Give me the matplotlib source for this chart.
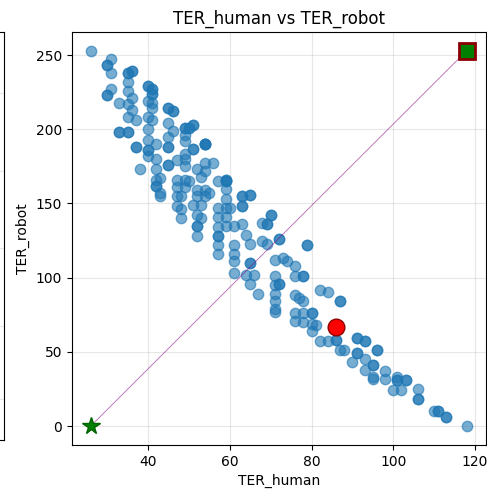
import matplotlib
matplotlib.use("Agg")
import matplotlib.pyplot as plt
import numpy as np

# (TER_human, TER_robot, stack count)
points = [
    (26, 253, 1),
    (31, 247, 1), (30, 243, 2), (31, 238, 1),
    (35, 238, 2), (36, 239, 2), (35, 232, 1),
    (40, 229, 2), (41, 227, 2), (31, 227, 1), (30, 223, 2), (35, 226, 1), (41, 224, 2),
    (36, 221, 1), (33, 218, 1), (40, 219, 1), (41, 218, 1), (35, 217, 1), (36, 213, 1),
    (41, 214, 1), (40, 208, 1), (35, 208, 1), (37, 206, 1), (41, 206, 1),
    (45, 214, 2), (46, 212, 2), (45, 204, 1), (46, 199, 1),
    (33, 198, 2), (35, 198, 2), (40, 200, 1), (40, 193, 1), (42, 190, 1), (45, 195, 1),
    (45, 188, 2), (37, 188, 2), (40, 186, 2),
    (49, 201, 2), (51, 203, 2), (50, 201, 2), (49, 196, 1), (49, 192, 1), (51, 187, 2), (49, 183, 1),
    (40, 182, 1), (42, 180, 1), (38, 173, 1), (42, 173, 1), (45, 176, 2), (47, 179, 1),
    (49, 180, 1), (49, 175, 1),
    (54, 190, 4),
    (52, 173, 1), (54, 177, 1), (54, 172, 1), (56, 177, 1), (53, 168, 1),
    (42, 166, 1), (43, 167, 1), (42, 162, 2), (43, 157, 1), (43, 155, 1),
    (47, 166, 1), (49, 166, 1), (50, 165, 1), (47, 161, 1), (49, 161, 1), (47, 155, 1),
    (48, 155, 1), (47, 148, 1), (48, 146, 1), (48, 140, 1),
    (52, 159, 1), (54, 159, 1), (55, 157, 1), (52, 155, 1), (54, 155, 1), (51, 149, 1),
    (53, 149, 1), (52, 142, 1), (53, 140, 1), (52, 135, 2), (52, 128, 1),
    (57, 165, 1), (59, 165, 2), (59, 166, 2), (59, 160, 1), (59, 153, 1), (57, 147, 1),
    (59, 147, 1), (60, 147, 1), (57, 141, 1), (59, 141, 1), (57, 134, 1), (59, 135, 1),
    (61, 135, 1), (57, 128, 2), (57, 122, 1), (57, 116, 1), (61, 122, 1), (61, 116, 1),
    (63, 136, 1), (64, 129, 1),
    (63, 155, 2), (65, 156, 2), (63, 148, 2),
    (70, 142, 2), (69, 136, 2), (68, 137, 1),
    (72, 126, 2), (79, 122, 2), (68, 125, 1), (69, 123, 1), (65, 123, 1),
    (61, 111, 1), (65, 110, 2), (61, 103, 1), (64, 102, 1), (66, 102, 1), (65, 96, 1), (67, 89, 1),
    (71, 112, 1), (73, 113, 1), (74, 111, 1), (76, 108, 1),
    (71, 101, 1), (71, 95, 1), (71, 89, 1), (71, 84, 1), (71, 79, 1),
    (76, 101, 1), (78, 101, 2),
    (76, 88, 1), (77, 86, 1), (78, 84, 1),
    (72, 96, 2),
    (82, 92, 1), (84, 90, 1),
    (87, 84, 2),
    (71, 77, 1),
    (76, 76, 1), (78, 76, 1), (80, 76, 2),
    (76, 71, 1), (78, 70, 1), (80, 69, 1), (81, 68, 1), (80, 64, 1),
    (82, 57, 1), (84, 57, 1), (86, 58, 2),
    (91, 59, 2), (93, 57, 2),
    (87, 51, 1), (88, 51, 1), (91, 49, 2), (90, 43, 1), (93, 45, 1), (93, 38, 1),
    (95, 41, 2), (95, 33, 1), (95, 32, 1), (98, 37, 1), (98, 32, 1),
    (96, 51, 2),
    (101, 33, 1), (101, 31, 2), (103, 31, 2),
    (100, 24, 1), (102, 24, 1),
    (106, 25, 1), (106, 18, 2),
    (110, 10, 1), (111, 10, 2), (113, 6, 2),
    (118, 0, 1),
]

ter_human = [p[0] for p in points for _ in range(p[2])]
ter_robot = [p[1] for p in points for _ in range(p[2])]

chosen = (86, 67)
ideal = (26, 0)
nadir = (118, 253)

fig = plt.figure(figsize=(4.87, 4.91), dpi=100)

# neighbouring subplot, mostly outside the canvas
ax0 = fig.add_axes([-0.5, 0.104, 0.5072, 0.831])
ax0.set_xticks([])
ax0.set_yticks([0.1, 0.28, 0.47, 0.66, 0.85])
ax0.tick_params(left=False, labelleft=False)
ax0.grid(True, alpha=0.3)

ax = fig.add_axes([0.1478, 0.0941, 0.8495, 0.8411])
ax.scatter(ter_human, ter_robot, s=56, color="#1f77b4", alpha=0.6, zorder=2)
ax.annotate("", xy=nadir, xytext=ideal,
            arrowprops=dict(arrowstyle="->", color="purple", alpha=0.6, lw=0.6),
            zorder=3)
ax.plot(*chosen, "o", color="red", markeredgecolor="darkred", markersize=12, zorder=5)
ax.plot(*ideal, "*", color="green", markeredgecolor="darkgreen", markersize=13, zorder=5)
ax.plot(*nadir, "s", color="green", markeredgecolor="darkred", markeredgewidth=2,
        markersize=11, zorder=5)

ax.set_xlim(21.4, 122.6)
ax.set_ylim(-12.65, 265.65)
ax.set_xticks([40, 60, 80, 100, 120])
ax.set_yticks([0, 50, 100, 150, 200, 250])
ax.grid(True, alpha=0.3)
ax.set_xlabel("TER_human")
ax.set_ylabel("TER_robot")
ax.set_title("TER_human vs TER_robot")

fig.savefig("out.png", dpi=100)
